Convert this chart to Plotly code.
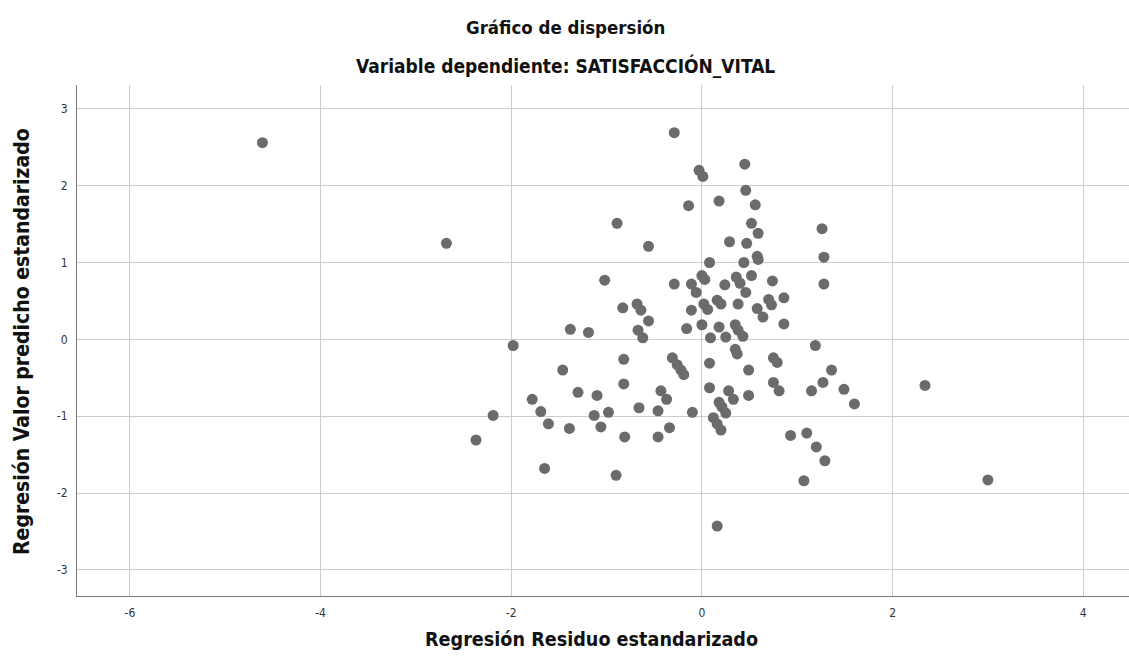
import plotly.graph_objects as go

residuo = [
    -4.61, -2.68, -2.37, -2.19, -1.98, -1.78, -1.69, -1.65, -1.61, -1.46,
    -1.39, -1.38, -1.30, -1.19, -1.10, -1.13, -1.06, -0.98, -1.02, -0.90,
    -0.89, -0.83, -0.82, -0.82, -0.81, -0.68, -0.64, -0.67, -0.62, -0.56,
    -0.56, -0.66, -0.46, -0.43, -0.37, -0.46, -0.34, -0.31, -0.26, -0.22,
    -0.19, -0.29, -0.29, -0.16, -0.11, -0.11, -0.06, -0.10, -0.14, -0.03,
    0.01, 0.00, 0.03, 0.00, 0.02, 0.06, 0.08, 0.09, 0.08, 0.08,
    0.12, 0.16, 0.20, 0.18, 0.21, 0.25, 0.16, 0.18, 0.16, 0.20,
    0.18, 0.24, 0.25, 0.28, 0.33, 0.35, 0.38, 0.43, 0.35, 0.37,
    0.29, 0.36, 0.40, 0.38, 0.45, 0.46, 0.46, 0.47, 0.44, 0.49,
    0.49, 0.52, 0.52, 0.56, 0.58, 0.59, 0.59, 0.58, 0.64, 0.70,
    0.73, 0.74, 0.75, 0.79, 0.75, 0.81, 0.86, 0.86, 0.93, 1.10,
    1.20, 1.29, 1.07, 1.15, 1.27, 1.36, 1.19, 1.26, 1.28, 1.28,
    1.49, 1.60, 2.34, 3.00,
]
predicho = [
    2.56, 1.25, -1.31, -0.99, -0.08, -0.78, -0.94, -1.68, -1.10, -0.40,
    -1.16, 0.13, -0.69, 0.09, -0.73, -0.99, -1.14, -0.95, 0.77, -1.77,
    1.51, 0.41, -0.26, -0.58, -1.27, 0.46, 0.38, 0.12, 0.02, 1.21,
    0.24, -0.89, -0.93, -0.67, -0.78, -1.27, -1.15, -0.24, -0.33, -0.40,
    -0.46, 2.69, 0.72, 0.14, 0.72, 0.38, 0.61, -0.95, 1.74, 2.20,
    2.12, 0.83, 0.78, 0.19, 0.46, 0.39, 1.00, 0.02, -0.31, -0.63,
    -1.02, -1.10, -1.18, -0.82, -0.88, -0.96, -2.43, 1.80, 0.51, 0.46,
    0.16, 0.71, 0.03, -0.67, -0.78, 0.19, 0.12, 0.04, -0.13, -0.19,
    1.27, 0.81, 0.73, 0.46, 2.28, 1.94, 0.61, 1.25, 1.00, -0.40,
    -0.73, 1.51, 0.83, 1.75, 1.08, 1.04, 1.38, 0.40, 0.29, 0.52,
    0.45, 0.76, -0.24, -0.30, -0.56, -0.67, 0.54, 0.20, -1.25, -1.22,
    -1.40, -1.58, -1.84, -0.67, -0.56, -0.40, -0.08, 1.44, 1.07, 0.72,
    -0.65, -0.84, -0.60, -1.83,
]

x_ticks = [-6, -4, -2, 0, 2, 4]
y_ticks = [-3, -2, -1, 0, 1, 2, 3]

titulo = "Gráfico de dispersión"
subtitulo = "Variable dependiente: SATISFACCIÓN_VITAL"
titulo_x = "Regresión Residuo estandarizado"
titulo_y = "Regresión Valor predicho estandarizado"

FONT = "DejaVu Sans Condensed, DejaVu Sans, sans-serif"

fig = go.Figure()
fig.add_trace(go.Scatter(
    x=residuo, y=predicho, mode="markers",
    marker=dict(size=11, color="#6b6b6b", line=dict(width=0)),
    hoverinfo="x+y", showlegend=False,
))

axis_common = dict(
    showgrid=True, gridcolor="#cccccc", gridwidth=1,
    zeroline=False, showline=True, linecolor="#7a7a7a", linewidth=1,
    ticks="", tickfont=dict(size=12, color="#333333"), automargin=False,
    ticklabelstandoff=6,
)

fig.update_layout(
    width=1129, height=662,
    margin=dict(l=77, r=0, t=85, b=66, autoexpand=False),
    paper_bgcolor="white", plot_bgcolor="white",
    font=dict(family=FONT, color="#222222"),
    xaxis=dict(range=[-6.555, 4.48], tickvals=x_ticks,
               ticktext=[str(v) for v in x_ticks], **axis_common),
    yaxis=dict(range=[-3.34, 3.31], tickvals=y_ticks,
               ticktext=[str(v) for v in y_ticks], **axis_common),
    annotations=[
        dict(text=f"<b>{titulo}</b>", x=0.4639, y=1.1135, xref="paper", yref="paper",
             xanchor="center", yanchor="middle", showarrow=False,
             font=dict(size=18.5, color="#111111")),
        dict(text=f"<b>{subtitulo}</b>", x=0.4639, y=1.0372, xref="paper", yref="paper",
             xanchor="center", yanchor="middle", showarrow=False,
             font=dict(size=19, color="#111111")),
        dict(text=f"<b>{titulo_x}</b>", x=0.4886, y=-0.0861, xref="paper", yref="paper",
             xanchor="center", yanchor="middle", showarrow=False,
             font=dict(size=19.6, color="#111111")),
        dict(text=f"<b>{titulo_y}</b>", x=-0.0523, y=0.499, xref="paper", yref="paper",
             xanchor="center", yanchor="middle", showarrow=False, textangle=-90,
             font=dict(size=21, color="#111111")),
    ],
)

fig.write_html("out.html", config={"displayModeBar": False},
               post_script="document.body.style.margin='0';document.body.style.overflow='hidden';")
